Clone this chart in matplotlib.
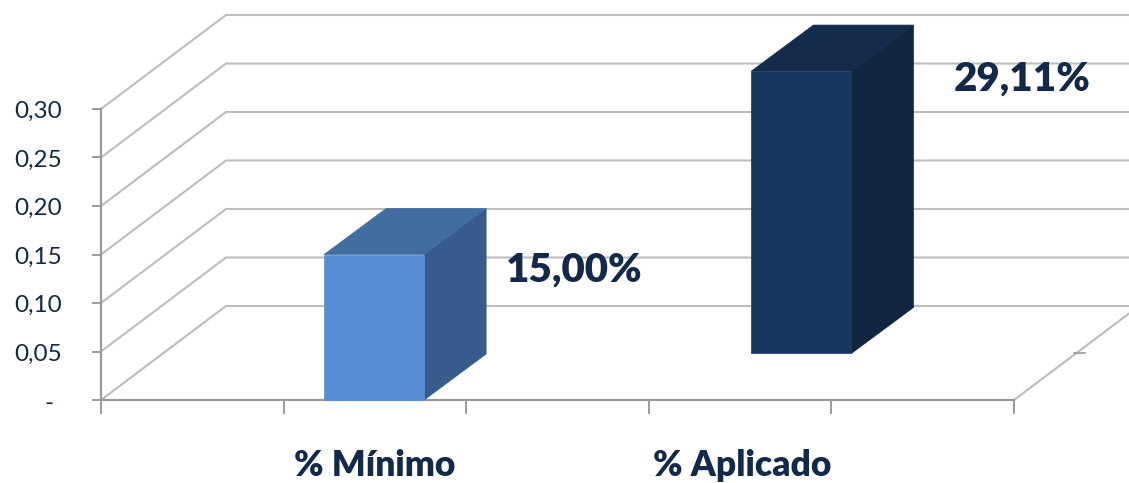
import matplotlib
matplotlib.use('Agg')
import matplotlib.pyplot as plt

plt.rcParams['font.family'] = ['Lato', 'DejaVu Sans']

categories = ['% Mínimo', '% Aplicado']
values = [0.15, 0.2911]
bar_base = [0.0, 0.048]
value_labels = ['15,00%', '29,11%']
y_ticks = [0.0, 0.05, 0.10, 0.15, 0.20, 0.25, 0.30]
y_ticklabels = ['-', '0,05', '0,10', '0,15', '0,20', '0,25', '0,30']

W, H = 1129, 483
# one x unit is one category slot of the floor, pixel sizes below
x0_px, unit_px = 101, 182.6
y0_px, yunit_px = 400, 970.0

fig = plt.figure(figsize=(W/100, H/100), dpi=100)
ax = fig.add_axes([0, 0, 1, 1])
ax.set_xlim(-x0_px/unit_px, (W-x0_px)/unit_px)
ax.set_ylim((y0_px-H)/yunit_px, y0_px/yunit_px)
ax.axis('off')

depth_x = 125/unit_px
depth_y = 94/yunit_px
n_slots = 5
grid_col = '#bdbdbd'
axis_col = '#9a9a9a'
text_col = '#12294a'

# walls
xmax = (W-x0_px)/unit_px
for v in y_ticks:
    ax.plot([0, depth_x, xmax], [v, v+depth_y, v+depth_y], color=grid_col, lw=1.5, zorder=1,
            solid_joinstyle='miter')
ax.plot([n_slots, n_slots+depth_x], [0, depth_y], color=grid_col, lw=1.5, zorder=1)
# little tick left on the side of the floor
ax.plot([n_slots+0.33, n_slots+0.39], [0.0485, 0.0485], color=axis_col, lw=1.2, zorder=2)

# axes
ax.plot([0, 0], [0, 0.30], color=axis_col, lw=1.6, zorder=2)
ax.plot([0, n_slots], [0, 0], color=axis_col, lw=1.6, zorder=2)
for v, lab in zip(y_ticks, y_ticklabels):
    ax.plot([-8/unit_px, 0], [v, v], color=axis_col, lw=1.4, zorder=2)
    if v > 0:
        ax.text(-39/unit_px, v-2.5/yunit_px, lab, ha='right', va='center', fontsize=17.5, color=text_col)
    else:
        ax.text(-52/unit_px, v-4/yunit_px, lab, ha='center', va='center', fontsize=17.5, color=text_col)
for i in range(n_slots+1):
    ax.plot([i, i], [0, -13/yunit_px], color=axis_col, lw=1.4, zorder=2)

# bars
bar_x = [1.222, 3.562]
bar_w = 100/unit_px
bar_dx = 62/unit_px
bar_dy = 46/yunit_px
front = ['#558ed5', '#17375e']
top = ['#416da3', '#142c4b']
side = ['#375c8b', '#10253f']
for x, b, v, c1, c2, c3 in zip(bar_x, bar_base, values, front, top, side):
    t = b+v
    # side and top first, front last, so no seam shows between the faces
    ax.fill([x+bar_w, x+bar_w+bar_dx, x+bar_w+bar_dx, x+bar_w], [b, b+bar_dy, t+bar_dy, t],
            facecolor=c3, edgecolor=c3, lw=0.5, zorder=3)
    ax.fill([x, x+bar_w, x+bar_w+bar_dx, x+bar_dx], [t, t, t+bar_dy, t+bar_dy],
            facecolor=c2, edgecolor=c2, lw=0.5, zorder=3)
    ax.fill([x, x+bar_w, x+bar_w, x], [b, b, t, t], facecolor=c1, edgecolor=c1, lw=0.5, zorder=3)

# value labels
label_x = [2.215, 4.672]
label_y = [0.1335, 0.3305]
for x, y, lab in zip(label_x, label_y, value_labels):
    ax.text(x, y, lab, fontsize=29, fontweight='heavy', color=text_col, va='center', ha='left', zorder=4)

# category labels
cat_x = [1.5, 3.51]
for x, lab in zip(cat_x, categories):
    ax.text(x, -66/yunit_px, lab, fontsize=25.5, fontweight='heavy', color=text_col, ha='center', va='center')

fig.savefig('out.png', dpi=100)
